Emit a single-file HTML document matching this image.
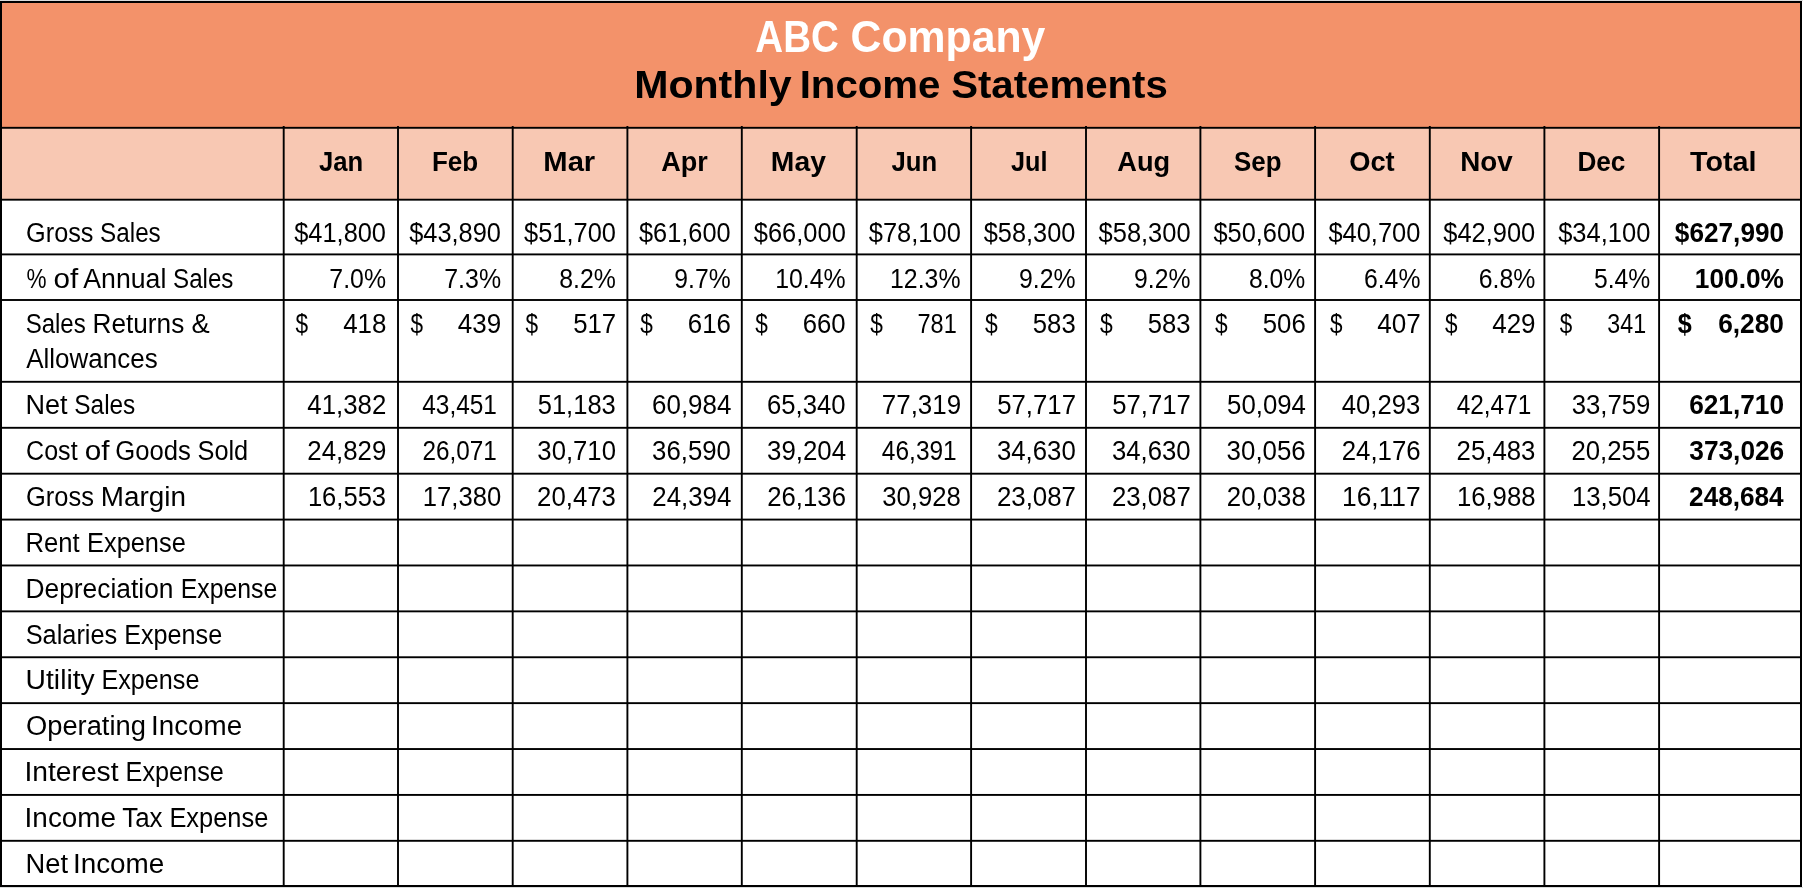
<!DOCTYPE html>
<html><head><meta charset="utf-8"><title>ABC Company Monthly Income Statements</title>
<style>
html,body{margin:0;padding:0;background:#fff;width:1803px;height:888px;overflow:hidden}
svg{display:block;will-change:transform}
</style></head><body>
<svg width="1803" height="888" viewBox="0 0 1803 888">
<rect x="0" y="0" width="1803" height="888" fill="#ffffff"/>
<rect x="0" y="0" width="1803" height="1" fill="#d9dbdb"/>
<rect x="0" y="887" width="1803" height="1" fill="#d9dbdb"/>
<rect x="0" y="1" width="1802" height="126.80" fill="#F3926A"/>
<rect x="0" y="127.80" width="1802" height="71.90" fill="#F8C8B3"/>
<g fill="#000">
<rect x="0" y="1" width="1802" height="2"/>
<rect x="0" y="885" width="1802" height="2"/>
<rect x="0" y="1" width="2" height="886"/>
<rect x="1800" y="1" width="2" height="886"/>
<rect x="0" y="126.85" width="1802" height="1.9"/>
<rect x="0" y="198.75" width="1802" height="1.9"/>
<rect x="0" y="253.45" width="1802" height="1.9"/>
<rect x="0" y="299.05" width="1802" height="1.9"/>
<rect x="0" y="380.85" width="1802" height="1.9"/>
<rect x="0" y="426.85" width="1802" height="1.9"/>
<rect x="0" y="472.74" width="1802" height="1.9"/>
<rect x="0" y="518.63" width="1802" height="1.9"/>
<rect x="0" y="564.52" width="1802" height="1.9"/>
<rect x="0" y="610.41" width="1802" height="1.9"/>
<rect x="0" y="656.30" width="1802" height="1.9"/>
<rect x="0" y="702.19" width="1802" height="1.9"/>
<rect x="0" y="748.08" width="1802" height="1.9"/>
<rect x="0" y="793.97" width="1802" height="1.9"/>
<rect x="0" y="839.86" width="1802" height="1.9"/>
<rect x="282.75" y="126.00" width="1.9" height="760.00"/>
<rect x="397.05" y="126.00" width="1.9" height="760.00"/>
<rect x="511.75" y="126.00" width="1.9" height="760.00"/>
<rect x="626.45" y="126.00" width="1.9" height="760.00"/>
<rect x="740.85" y="126.00" width="1.9" height="760.00"/>
<rect x="855.75" y="126.00" width="1.9" height="760.00"/>
<rect x="970.15" y="126.00" width="1.9" height="760.00"/>
<rect x="1085.05" y="126.00" width="1.9" height="760.00"/>
<rect x="1199.45" y="126.00" width="1.9" height="760.00"/>
<rect x="1314.15" y="126.00" width="1.9" height="760.00"/>
<rect x="1428.85" y="126.00" width="1.9" height="760.00"/>
<rect x="1543.45" y="126.00" width="1.9" height="760.00"/>
<rect x="1658.15" y="126.00" width="1.9" height="760.00"/>
</g>
<g font-family="'Liberation Sans', Arial, sans-serif" fill="#000">
<text x="755.34" y="51.60" font-size="44.0" font-weight="bold" fill="#ffffff" textLength="83.41" lengthAdjust="spacingAndGlyphs">ABC</text>
<text x="850.54" y="51.60" font-size="44.0" font-weight="bold" fill="#ffffff" textLength="194.77" lengthAdjust="spacingAndGlyphs">Company</text>
<text x="634.19" y="98.00" font-size="39.1" font-weight="bold" textLength="157.49" lengthAdjust="spacingAndGlyphs">Monthly</text>
<text x="799.65" y="98.00" font-size="39.1" font-weight="bold" textLength="140.78" lengthAdjust="spacingAndGlyphs">Income</text>
<text x="951.19" y="98.00" font-size="39.1" font-weight="bold" textLength="216.56" lengthAdjust="spacingAndGlyphs">Statements</text>
<text x="341.18" y="170.80" font-size="27.0" text-anchor="middle" font-weight="bold" textLength="44.23" lengthAdjust="spacingAndGlyphs">Jan</text>
<text x="455.12" y="170.80" font-size="27.0" text-anchor="middle" font-weight="bold" textLength="46.25" lengthAdjust="spacingAndGlyphs">Feb</text>
<text x="569.29" y="170.80" font-size="27.0" text-anchor="middle" font-weight="bold" textLength="51.87" lengthAdjust="spacingAndGlyphs">Mar</text>
<text x="684.41" y="170.80" font-size="27.0" text-anchor="middle" font-weight="bold" textLength="46.54" lengthAdjust="spacingAndGlyphs">Apr</text>
<text x="798.38" y="170.80" font-size="27.0" text-anchor="middle" font-weight="bold" textLength="55.05" lengthAdjust="spacingAndGlyphs">May</text>
<text x="914.39" y="170.80" font-size="27.0" text-anchor="middle" font-weight="bold" textLength="45.69" lengthAdjust="spacingAndGlyphs">Jun</text>
<text x="1029.19" y="170.80" font-size="27.0" text-anchor="middle" font-weight="bold" textLength="36.51" lengthAdjust="spacingAndGlyphs">Jul</text>
<text x="1143.78" y="170.80" font-size="27.0" text-anchor="middle" font-weight="bold" textLength="52.84" lengthAdjust="spacingAndGlyphs">Aug</text>
<text x="1257.80" y="170.80" font-size="27.0" text-anchor="middle" font-weight="bold" textLength="47.40" lengthAdjust="spacingAndGlyphs">Sep</text>
<text x="1371.93" y="170.80" font-size="27.0" text-anchor="middle" font-weight="bold" textLength="45.52" lengthAdjust="spacingAndGlyphs">Oct</text>
<text x="1486.39" y="170.80" font-size="27.0" text-anchor="middle" font-weight="bold" textLength="52.53" lengthAdjust="spacingAndGlyphs">Nov</text>
<text x="1601.41" y="170.80" font-size="27.0" text-anchor="middle" font-weight="bold" textLength="47.99" lengthAdjust="spacingAndGlyphs">Dec</text>
<text x="1723.21" y="170.80" font-size="27.0" text-anchor="middle" font-weight="bold" textLength="66.39" lengthAdjust="spacingAndGlyphs">Total</text>
<text x="26.12" y="241.70" font-size="27.0" textLength="67.40" lengthAdjust="spacingAndGlyphs">Gross</text>
<text x="100.10" y="241.70" font-size="27.0" textLength="60.64" lengthAdjust="spacingAndGlyphs">Sales</text>
<text x="385.99" y="241.70" font-size="27.0" text-anchor="end" textLength="91.75" lengthAdjust="spacingAndGlyphs">$41,800</text>
<text x="500.98" y="241.70" font-size="27.0" text-anchor="end" textLength="91.84" lengthAdjust="spacingAndGlyphs">$43,890</text>
<text x="615.94" y="241.70" font-size="27.0" text-anchor="end" textLength="91.86" lengthAdjust="spacingAndGlyphs">$51,700</text>
<text x="730.65" y="241.70" font-size="27.0" text-anchor="end" textLength="91.61" lengthAdjust="spacingAndGlyphs">$61,600</text>
<text x="845.81" y="241.70" font-size="27.0" text-anchor="end" textLength="91.99" lengthAdjust="spacingAndGlyphs">$66,000</text>
<text x="960.84" y="241.70" font-size="27.0" text-anchor="end" textLength="92.12" lengthAdjust="spacingAndGlyphs">$78,100</text>
<text x="1075.41" y="241.70" font-size="27.0" text-anchor="end" textLength="91.70" lengthAdjust="spacingAndGlyphs">$58,300</text>
<text x="1190.62" y="241.70" font-size="27.0" text-anchor="end" textLength="92.05" lengthAdjust="spacingAndGlyphs">$58,300</text>
<text x="1305.24" y="241.70" font-size="27.0" text-anchor="end" textLength="91.82" lengthAdjust="spacingAndGlyphs">$50,600</text>
<text x="1420.33" y="241.70" font-size="27.0" text-anchor="end" textLength="91.95" lengthAdjust="spacingAndGlyphs">$40,700</text>
<text x="1535.21" y="241.70" font-size="27.0" text-anchor="end" textLength="91.97" lengthAdjust="spacingAndGlyphs">$42,900</text>
<text x="1650.32" y="241.70" font-size="27.0" text-anchor="end" textLength="92.16" lengthAdjust="spacingAndGlyphs">$34,100</text>
<text x="1784.11" y="241.70" font-size="27.0" text-anchor="end" font-weight="bold" textLength="109.27" lengthAdjust="spacingAndGlyphs">$627,990</text>
<text x="26.60" y="287.80" font-size="27.0" textLength="20.05" lengthAdjust="spacingAndGlyphs">%</text>
<text x="53.58" y="287.80" font-size="27.0" textLength="24.75" lengthAdjust="spacingAndGlyphs">of</text>
<text x="83.34" y="287.80" font-size="27.0" textLength="82.99" lengthAdjust="spacingAndGlyphs">Annual</text>
<text x="173.05" y="287.80" font-size="27.0" textLength="60.35" lengthAdjust="spacingAndGlyphs">Sales</text>
<text x="386.01" y="287.80" font-size="27.0" text-anchor="end" textLength="56.64" lengthAdjust="spacingAndGlyphs">7.0%</text>
<text x="501.05" y="287.80" font-size="27.0" text-anchor="end" textLength="56.77" lengthAdjust="spacingAndGlyphs">7.3%</text>
<text x="615.92" y="287.80" font-size="27.0" text-anchor="end" textLength="56.60" lengthAdjust="spacingAndGlyphs">8.2%</text>
<text x="730.61" y="287.80" font-size="27.0" text-anchor="end" textLength="56.25" lengthAdjust="spacingAndGlyphs">9.7%</text>
<text x="845.72" y="287.80" font-size="27.0" text-anchor="end" textLength="70.51" lengthAdjust="spacingAndGlyphs">10.4%</text>
<text x="960.50" y="287.80" font-size="27.0" text-anchor="end" textLength="70.45" lengthAdjust="spacingAndGlyphs">12.3%</text>
<text x="1075.51" y="287.80" font-size="27.0" text-anchor="end" textLength="56.54" lengthAdjust="spacingAndGlyphs">9.2%</text>
<text x="1190.43" y="287.80" font-size="27.0" text-anchor="end" textLength="56.35" lengthAdjust="spacingAndGlyphs">9.2%</text>
<text x="1305.29" y="287.80" font-size="27.0" text-anchor="end" textLength="56.31" lengthAdjust="spacingAndGlyphs">8.0%</text>
<text x="1420.40" y="287.80" font-size="27.0" text-anchor="end" textLength="56.43" lengthAdjust="spacingAndGlyphs">6.4%</text>
<text x="1535.37" y="287.80" font-size="27.0" text-anchor="end" textLength="56.61" lengthAdjust="spacingAndGlyphs">6.8%</text>
<text x="1650.30" y="287.80" font-size="27.0" text-anchor="end" textLength="56.34" lengthAdjust="spacingAndGlyphs">5.4%</text>
<text x="1783.96" y="287.80" font-size="27.0" text-anchor="end" font-weight="bold" textLength="89.11" lengthAdjust="spacingAndGlyphs">100.0%</text>
<text x="25.65" y="332.90" font-size="27.0" textLength="60.06" lengthAdjust="spacingAndGlyphs">Sales</text>
<text x="92.58" y="332.90" font-size="27.0" textLength="91.65" lengthAdjust="spacingAndGlyphs">Returns</text>
<text x="191.44" y="332.90" font-size="27.0" textLength="18.21" lengthAdjust="spacingAndGlyphs">&amp;</text>
<text x="26.22" y="367.60" font-size="27.0" textLength="131.44" lengthAdjust="spacingAndGlyphs">Allowances</text>
<text x="295.60" y="332.90" font-size="27.0" textLength="12.61" lengthAdjust="spacingAndGlyphs">$</text>
<text x="386.39" y="332.90" font-size="27.0" text-anchor="end" textLength="43.25" lengthAdjust="spacingAndGlyphs">418</text>
<text x="410.49" y="332.90" font-size="27.0" textLength="12.58" lengthAdjust="spacingAndGlyphs">$</text>
<text x="501.13" y="332.90" font-size="27.0" text-anchor="end" textLength="43.38" lengthAdjust="spacingAndGlyphs">439</text>
<text x="525.38" y="332.90" font-size="27.0" textLength="12.60" lengthAdjust="spacingAndGlyphs">$</text>
<text x="616.17" y="332.90" font-size="27.0" text-anchor="end" textLength="42.98" lengthAdjust="spacingAndGlyphs">517</text>
<text x="640.21" y="332.90" font-size="27.0" textLength="12.60" lengthAdjust="spacingAndGlyphs">$</text>
<text x="731.01" y="332.90" font-size="27.0" text-anchor="end" textLength="43.18" lengthAdjust="spacingAndGlyphs">616</text>
<text x="755.17" y="332.90" font-size="27.0" textLength="12.60" lengthAdjust="spacingAndGlyphs">$</text>
<text x="845.63" y="332.90" font-size="27.0" text-anchor="end" textLength="42.96" lengthAdjust="spacingAndGlyphs">660</text>
<text x="870.34" y="332.90" font-size="27.0" textLength="12.65" lengthAdjust="spacingAndGlyphs">$</text>
<text x="956.75" y="332.90" font-size="27.0" text-anchor="end" textLength="39.19" lengthAdjust="spacingAndGlyphs">781</text>
<text x="984.92" y="332.90" font-size="27.0" textLength="12.74" lengthAdjust="spacingAndGlyphs">$</text>
<text x="1075.72" y="332.90" font-size="27.0" text-anchor="end" textLength="42.89" lengthAdjust="spacingAndGlyphs">583</text>
<text x="1099.92" y="332.90" font-size="27.0" textLength="12.74" lengthAdjust="spacingAndGlyphs">$</text>
<text x="1190.64" y="332.90" font-size="27.0" text-anchor="end" textLength="42.80" lengthAdjust="spacingAndGlyphs">583</text>
<text x="1215.10" y="332.90" font-size="27.0" textLength="12.64" lengthAdjust="spacingAndGlyphs">$</text>
<text x="1305.84" y="332.90" font-size="27.0" text-anchor="end" textLength="43.06" lengthAdjust="spacingAndGlyphs">506</text>
<text x="1330.03" y="332.90" font-size="27.0" textLength="12.55" lengthAdjust="spacingAndGlyphs">$</text>
<text x="1420.67" y="332.90" font-size="27.0" text-anchor="end" textLength="43.54" lengthAdjust="spacingAndGlyphs">407</text>
<text x="1444.95" y="332.90" font-size="27.0" textLength="12.53" lengthAdjust="spacingAndGlyphs">$</text>
<text x="1535.57" y="332.90" font-size="27.0" text-anchor="end" textLength="43.39" lengthAdjust="spacingAndGlyphs">429</text>
<text x="1559.76" y="332.90" font-size="27.0" textLength="12.51" lengthAdjust="spacingAndGlyphs">$</text>
<text x="1646.18" y="332.90" font-size="27.0" text-anchor="end" textLength="38.81" lengthAdjust="spacingAndGlyphs">341</text>
<text x="1677.74" y="332.90" font-size="27.0" font-weight="bold" textLength="14.00" lengthAdjust="spacingAndGlyphs">$</text>
<text x="1784.00" y="332.90" font-size="27.0" text-anchor="end" font-weight="bold" textLength="65.85" lengthAdjust="spacingAndGlyphs">6,280</text>
<text x="25.48" y="414.10" font-size="27.0" textLength="42.13" lengthAdjust="spacingAndGlyphs">Net</text>
<text x="74.33" y="414.10" font-size="27.0" textLength="60.99" lengthAdjust="spacingAndGlyphs">Sales</text>
<text x="386.32" y="414.10" font-size="27.0" text-anchor="end" textLength="78.95" lengthAdjust="spacingAndGlyphs">41,382</text>
<text x="496.94" y="414.10" font-size="27.0" text-anchor="end" textLength="74.66" lengthAdjust="spacingAndGlyphs">43,451</text>
<text x="615.81" y="414.10" font-size="27.0" text-anchor="end" textLength="78.11" lengthAdjust="spacingAndGlyphs">51,183</text>
<text x="731.33" y="414.10" font-size="27.0" text-anchor="end" textLength="79.26" lengthAdjust="spacingAndGlyphs">60,984</text>
<text x="845.65" y="414.10" font-size="27.0" text-anchor="end" textLength="78.59" lengthAdjust="spacingAndGlyphs">65,340</text>
<text x="961.10" y="414.10" font-size="27.0" text-anchor="end" textLength="79.27" lengthAdjust="spacingAndGlyphs">77,319</text>
<text x="1076.03" y="414.10" font-size="27.0" text-anchor="end" textLength="78.84" lengthAdjust="spacingAndGlyphs">57,717</text>
<text x="1190.79" y="414.10" font-size="27.0" text-anchor="end" textLength="78.48" lengthAdjust="spacingAndGlyphs">57,717</text>
<text x="1305.97" y="414.10" font-size="27.0" text-anchor="end" textLength="78.92" lengthAdjust="spacingAndGlyphs">50,094</text>
<text x="1420.36" y="414.10" font-size="27.0" text-anchor="end" textLength="78.59" lengthAdjust="spacingAndGlyphs">40,293</text>
<text x="1531.35" y="414.10" font-size="27.0" text-anchor="end" textLength="74.65" lengthAdjust="spacingAndGlyphs">42,471</text>
<text x="1650.44" y="414.10" font-size="27.0" text-anchor="end" textLength="78.80" lengthAdjust="spacingAndGlyphs">33,759</text>
<text x="1783.99" y="414.10" font-size="27.0" text-anchor="end" font-weight="bold" textLength="94.83" lengthAdjust="spacingAndGlyphs">621,710</text>
<text x="26.08" y="459.99" font-size="27.0" textLength="51.54" lengthAdjust="spacingAndGlyphs">Cost</text>
<text x="84.65" y="459.99" font-size="27.0" textLength="24.79" lengthAdjust="spacingAndGlyphs">of</text>
<text x="115.25" y="459.99" font-size="27.0" textLength="75.61" lengthAdjust="spacingAndGlyphs">Goods</text>
<text x="197.51" y="459.99" font-size="27.0" textLength="50.70" lengthAdjust="spacingAndGlyphs">Sold</text>
<text x="386.27" y="459.99" font-size="27.0" text-anchor="end" textLength="79.00" lengthAdjust="spacingAndGlyphs">24,829</text>
<text x="496.91" y="459.99" font-size="27.0" text-anchor="end" textLength="74.40" lengthAdjust="spacingAndGlyphs">26,071</text>
<text x="615.94" y="459.99" font-size="27.0" text-anchor="end" textLength="78.57" lengthAdjust="spacingAndGlyphs">30,710</text>
<text x="730.90" y="459.99" font-size="27.0" text-anchor="end" textLength="78.79" lengthAdjust="spacingAndGlyphs">36,590</text>
<text x="846.13" y="459.99" font-size="27.0" text-anchor="end" textLength="79.05" lengthAdjust="spacingAndGlyphs">39,204</text>
<text x="956.72" y="459.99" font-size="27.0" text-anchor="end" textLength="74.86" lengthAdjust="spacingAndGlyphs">46,391</text>
<text x="1075.73" y="459.99" font-size="27.0" text-anchor="end" textLength="78.80" lengthAdjust="spacingAndGlyphs">34,630</text>
<text x="1190.60" y="459.99" font-size="27.0" text-anchor="end" textLength="78.67" lengthAdjust="spacingAndGlyphs">34,630</text>
<text x="1305.75" y="459.99" font-size="27.0" text-anchor="end" textLength="79.14" lengthAdjust="spacingAndGlyphs">30,056</text>
<text x="1420.71" y="459.99" font-size="27.0" text-anchor="end" textLength="78.99" lengthAdjust="spacingAndGlyphs">24,176</text>
<text x="1535.41" y="459.99" font-size="27.0" text-anchor="end" textLength="78.81" lengthAdjust="spacingAndGlyphs">25,483</text>
<text x="1650.22" y="459.99" font-size="27.0" text-anchor="end" textLength="78.81" lengthAdjust="spacingAndGlyphs">20,255</text>
<text x="1784.24" y="459.99" font-size="27.0" text-anchor="end" font-weight="bold" textLength="94.94" lengthAdjust="spacingAndGlyphs">373,026</text>
<text x="26.01" y="505.87" font-size="27.0" textLength="67.89" lengthAdjust="spacingAndGlyphs">Gross</text>
<text x="100.87" y="505.87" font-size="27.0" textLength="85.15" lengthAdjust="spacingAndGlyphs">Margin</text>
<text x="386.10" y="505.87" font-size="27.0" text-anchor="end" textLength="78.22" lengthAdjust="spacingAndGlyphs">16,553</text>
<text x="501.16" y="505.87" font-size="27.0" text-anchor="end" textLength="78.38" lengthAdjust="spacingAndGlyphs">17,380</text>
<text x="615.87" y="505.87" font-size="27.0" text-anchor="end" textLength="78.76" lengthAdjust="spacingAndGlyphs">20,473</text>
<text x="731.30" y="505.87" font-size="27.0" text-anchor="end" textLength="78.98" lengthAdjust="spacingAndGlyphs">24,394</text>
<text x="845.97" y="505.87" font-size="27.0" text-anchor="end" textLength="78.76" lengthAdjust="spacingAndGlyphs">26,136</text>
<text x="960.75" y="505.87" font-size="27.0" text-anchor="end" textLength="78.57" lengthAdjust="spacingAndGlyphs">30,928</text>
<text x="1076.01" y="505.87" font-size="27.0" text-anchor="end" textLength="79.11" lengthAdjust="spacingAndGlyphs">23,087</text>
<text x="1190.74" y="505.87" font-size="27.0" text-anchor="end" textLength="78.85" lengthAdjust="spacingAndGlyphs">23,087</text>
<text x="1305.76" y="505.87" font-size="27.0" text-anchor="end" textLength="78.90" lengthAdjust="spacingAndGlyphs">20,038</text>
<text x="1420.68" y="505.87" font-size="27.0" text-anchor="end" textLength="78.71" lengthAdjust="spacingAndGlyphs">16,117</text>
<text x="1535.51" y="505.87" font-size="27.0" text-anchor="end" textLength="78.63" lengthAdjust="spacingAndGlyphs">16,988</text>
<text x="1650.66" y="505.87" font-size="27.0" text-anchor="end" textLength="78.78" lengthAdjust="spacingAndGlyphs">13,504</text>
<text x="1783.69" y="505.87" font-size="27.0" text-anchor="end" font-weight="bold" textLength="94.61" lengthAdjust="spacingAndGlyphs">248,684</text>
<text x="25.59" y="551.75" font-size="27.0" textLength="54.16" lengthAdjust="spacingAndGlyphs">Rent</text>
<text x="87.07" y="551.75" font-size="27.0" textLength="98.70" lengthAdjust="spacingAndGlyphs">Expense</text>
<text x="25.48" y="597.64" font-size="27.0" textLength="148.05" lengthAdjust="spacingAndGlyphs">Depreciation</text>
<text x="180.78" y="597.64" font-size="27.0" textLength="96.51" lengthAdjust="spacingAndGlyphs">Expense</text>
<text x="25.64" y="643.52" font-size="27.0" textLength="91.68" lengthAdjust="spacingAndGlyphs">Salaries</text>
<text x="124.19" y="643.52" font-size="27.0" textLength="97.97" lengthAdjust="spacingAndGlyphs">Expense</text>
<text x="25.61" y="689.41" font-size="27.0" textLength="69.04" lengthAdjust="spacingAndGlyphs">Utility</text>
<text x="101.41" y="689.41" font-size="27.0" textLength="98.03" lengthAdjust="spacingAndGlyphs">Expense</text>
<text x="26.05" y="735.30" font-size="27.0" textLength="119.80" lengthAdjust="spacingAndGlyphs">Operating</text>
<text x="151.03" y="735.30" font-size="27.0" textLength="91.08" lengthAdjust="spacingAndGlyphs">Income</text>
<text x="24.44" y="781.18" font-size="27.0" textLength="94.07" lengthAdjust="spacingAndGlyphs">Interest</text>
<text x="125.59" y="781.18" font-size="27.0" textLength="98.23" lengthAdjust="spacingAndGlyphs">Expense</text>
<text x="24.62" y="827.07" font-size="27.0" textLength="91.51" lengthAdjust="spacingAndGlyphs">Income</text>
<text x="122.21" y="827.07" font-size="27.0" textLength="40.34" lengthAdjust="spacingAndGlyphs">Tax</text>
<text x="169.43" y="827.07" font-size="27.0" textLength="98.86" lengthAdjust="spacingAndGlyphs">Expense</text>
<text x="25.52" y="872.95" font-size="27.0" textLength="42.50" lengthAdjust="spacingAndGlyphs">Net</text>
<text x="72.93" y="872.95" font-size="27.0" textLength="91.44" lengthAdjust="spacingAndGlyphs">Income</text>
</g></svg>
</body></html>
